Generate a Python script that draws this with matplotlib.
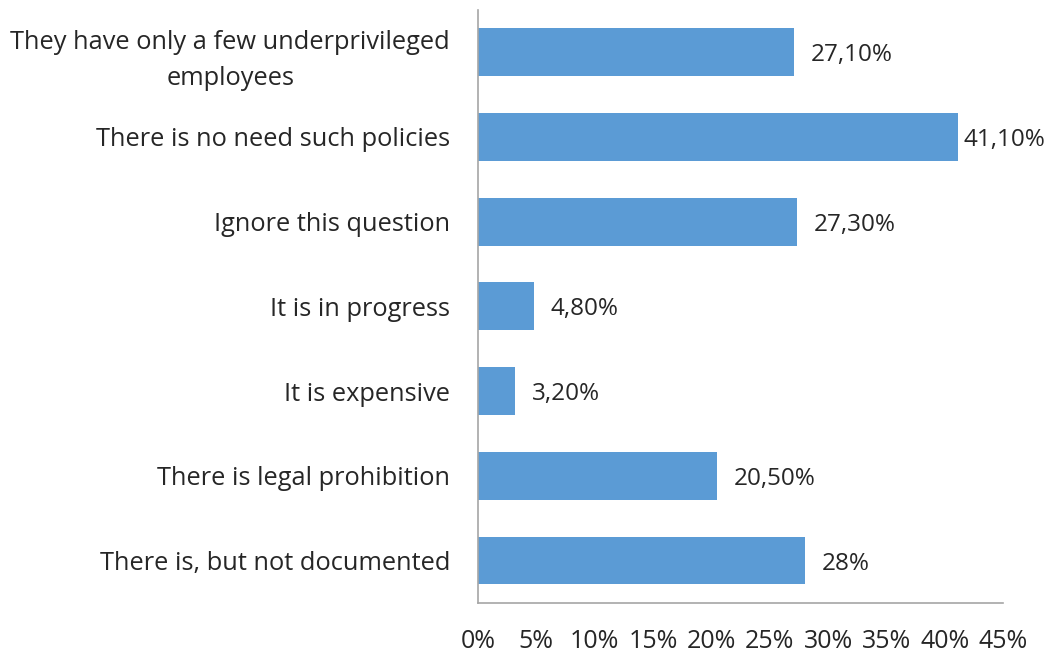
import matplotlib
matplotlib.use("Agg")
import matplotlib.pyplot as plt

# categories listed top to bottom
categories = [
    "They have only a few underprivileged\nemployees",
    "There is no need such policies",
    "Ignore this question",
    "It is in progress",
    "It is expensive",
    "There is legal prohibition",
    "There is, but not documented",
]
values = [27.1, 41.1, 27.3, 4.8, 3.2, 20.5, 28.0]
value_labels = ["27,10%", "41,10%", "27,30%", "4,80%", "3,20%", "20,50%", "28%"]
ticks = [0, 5, 10, 15, 20, 25, 30, 35, 40, 45]

plt.rcParams["font.family"] = ["Open Sans", "DejaVu Sans"]
text_color = "#262626"

fig = plt.figure(figsize=(10.55, 6.56), dpi=100)
ax = fig.add_axes([0.453, 0.081, 0.498, 0.904])

ypos = list(range(len(categories)))[::-1]
ax.barh(ypos, values, height=0.565, color="#5B9BD5")

for y, v, lab in zip(ypos, values, value_labels):
    # labels near the right edge get pulled in closer, as in the original
    off = 4 if v > 40 else 12
    ax.annotate(lab, (v, y), xytext=(off, 0), textcoords="offset points",
                va="center_baseline", ha="left", fontsize=17.5, color=text_color)

ax.set_xlim(0, 45)
ax.set_ylim(-0.5, len(categories) - 0.5)
ax.set_xticks(ticks)
ax.set_xticklabels([f"{t}%" for t in ticks], fontsize=18, color=text_color)
ax.set_yticks(ypos)
ax.set_yticklabels(categories, fontsize=18.3, color=text_color,
                   multialignment="center", linespacing=1.55)
ax.tick_params(axis="x", length=0, pad=19)
ax.tick_params(axis="y", length=0, pad=20)

for side in ("top", "right"):
    ax.spines[side].set_visible(False)
for side in ("left", "bottom"):
    ax.spines[side].set_color("#A6A6A6")
    ax.spines[side].set_linewidth(1.2)

fig.savefig("out.png", dpi=100)
